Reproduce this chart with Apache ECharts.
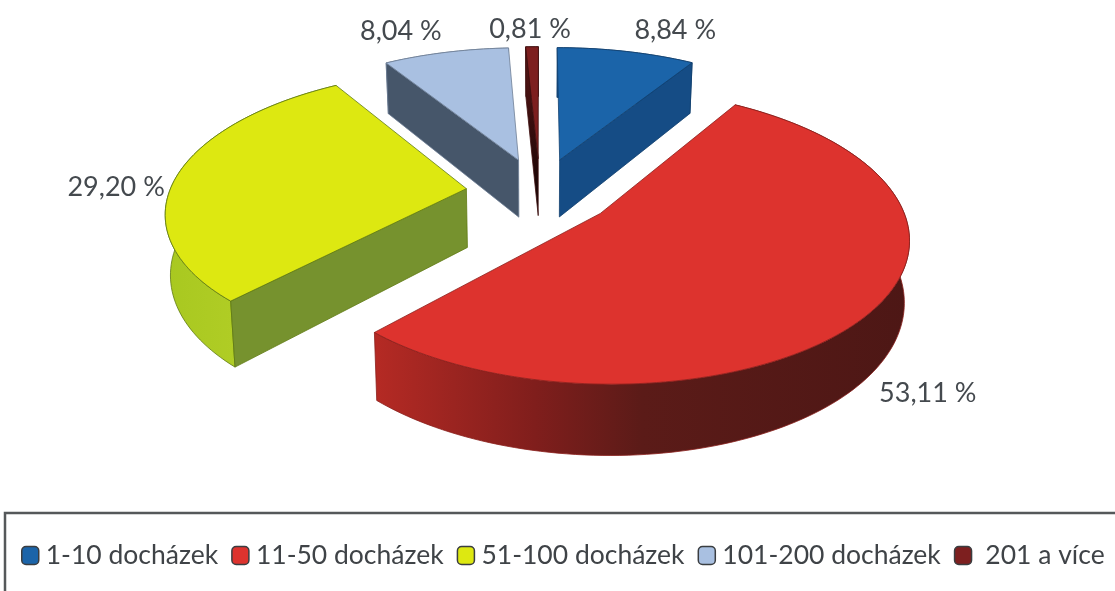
<!DOCTYPE html>
<html>
<head>
<meta charset="utf-8">
<title>Docházky</title>
<script src="https://cdn.jsdelivr.net/npm/echarts@6/dist/echarts.min.js"></script>
<style>
html, body { margin: 0; padding: 0; background: #fff; }
#chart { width: 1115px; height: 591px; }
</style>
</head>
<body>
<div id="chart"></div>
<script>
var categories = ['1-10 docházek', '11-50 docházek', '51-100 docházek', '101-200 docházek', '201 a více'];
var values = [8.84, 53.11, 29.20, 8.04, 0.81];

// colours of each slice: top, radial wall, rim stops
var topColors = ['#1b64a9', '#dd332e', '#dde811', '#a9c0e1', '#7d1f1f'];
var wallColors = ['#154c85', '#8c2320', '#76922e', '#46566a', '#2a0d0d'];
var edgeColors = ['#12406f', '#8a1f1c', '#5f7a12', '#6f7f96', '#3d0f0f'];
var rimStops = [
    ['#154c85', '#154c85'],
    ['#b52a24', '#801e1c', '#5b1b18', '#4d1715'],
    ['#a8c820', '#bcd42c'],
    ['#46566a', '#46566a'],
    ['#2a0d0d', '#2a0d0d']
];
// which radial edges show a wall: 'start', 'end' or none
var radialWall = ['end', null, 'start', 'start', 'start'];
var labelOffsets = [[49, -21], [55, 83], [-61, 12], [-45, -21], [-2, -17]];
var drawOrder = [3, 3, 4, 2, 2];

// pseudo 3d projection of the pie plane
var cx = 540, cy = 192, radiusX = 297, radiusY = 138, persp = 0.15, explode = 0.25, depth = 59;

var total = values.reduce(function (a, b) { return a + b; }, 0);
var starts = [];
values.reduce(function (sum, v, i) { starts[i] = sum / total * Math.PI * 2; return sum + v; }, 0);

function project(idx, angle, r) {
    var mid = starts[idx] + values[idx] / total * Math.PI;
    var u = r * Math.sin(angle) + explode * Math.sin(mid);
    var v = r * Math.cos(angle) + explode * Math.cos(mid);
    var s = 1 / (1 + persp * v);
    return { x: cx + radiusX * u * s, y: cy - radiusY * v * s, s: s };
}

function down(p) {
    return [cx + (p.x - cx) * 0.986, p.y + depth * p.s];
}

function renderSlice(params, api) {
    var idx = params.seriesIndex;
    var from = starts[idx], to = from + api.value(0) / total * Math.PI * 2;
    var apex = project(idx, from, 0);
    var steps = Math.max(4, Math.round((to - from) * 40));
    var upper = [], lower = [], i;
    for (i = 0; i <= steps; i++) {
        var p = project(idx, from + (to - from) * i / steps, 1);
        upper.push(p);
        lower.push(down(p));
    }
    var stops = rimStops[idx].map(function (c, n, list) {
        return { offset: idx === 1 ? [0, 0.3, 0.5, 1][n] : n / (list.length - 1), color: c };
    });
    var rimPoints = upper.map(function (q) { return [q.x, q.y]; }).concat(lower.slice().reverse());
    var children = [{
        type: 'polygon',
        shape: { points: rimPoints },
        style: {
            fill: new echarts.graphic.LinearGradient(0, 0, 1, 0, stops),
            stroke: edgeColors[idx], lineWidth: 0.8
        }
    }];
    if (radialWall[idx]) {
        var edge = radialWall[idx] === 'start' ? upper[0] : upper[steps];
        var edgeFill = wallColors[idx];
        if (idx === 4) {
            edgeFill = new echarts.graphic.LinearGradient(0, 0, 0, 1, [
                { offset: 0, color: '#5a1616' }, { offset: 1, color: '#100404' }
            ]);
        }
        children.push({
            type: 'polygon',
            shape: { points: [[apex.x, apex.y], [edge.x, edge.y], down(edge), down(apex)] },
            style: { fill: edgeFill, stroke: edgeColors[idx], lineWidth: 0.8 }
        });
    }
    children.push({
        type: 'polygon',
        shape: { points: [[apex.x, apex.y]].concat(upper.map(function (q) { return [q.x, q.y]; })) },
        style: { fill: topColors[idx], stroke: edgeColors[idx], lineWidth: 0.8 }
    });
    var m = project(idx, (from + to) / 2, 1);
    children.push({
        type: 'text',
        style: {
            text: api.value(0).toFixed(2).replace('.', ',') + ' %',
            x: m.x + labelOffsets[idx][0],
            y: m.y + labelOffsets[idx][1],
            fill: '#44494e',
            font: '27px Lato',
            align: 'center',
            verticalAlign: 'middle'
        }
    });
    return { type: 'group', children: children };
}

var chart = echarts.init(document.getElementById('chart'));
chart.setOption({
    animation: false,
    backgroundColor: '#fff',
    graphic: [{
        type: 'rect',
        z: 0,
        shape: { x: 5, y: 513, width: 1125, height: 100 },
        style: { fill: 'none', stroke: '#55585a', lineWidth: 2.5 }
    }],
    legend: {
        data: categories,
        left: 16,
        top: 537,
        width: 1300,
        icon: 'roundRect',
        itemWidth: 17,
        itemHeight: 18,
        itemGap: 13,
        itemStyle: { borderColor: '#3a3d40', borderWidth: 1.5 },
        formatter: function (name) {
            return name === categories[4] ? ' ' + name : name;
        },
        textStyle: { fontFamily: 'Lato', fontSize: 26.5, color: '#3f4347', padding: [0, 0, 0, 2] }
    },
    series: categories.map(function (name, i) {
        return {
            type: 'custom',
            name: name,
            coordinateSystem: 'none',
            z: drawOrder[i],
            silent: true,
            itemStyle: { color: topColors[i] },
            renderItem: renderSlice,
            data: [[values[i]]]
        };
    })
});
</script>
</body>
</html>
